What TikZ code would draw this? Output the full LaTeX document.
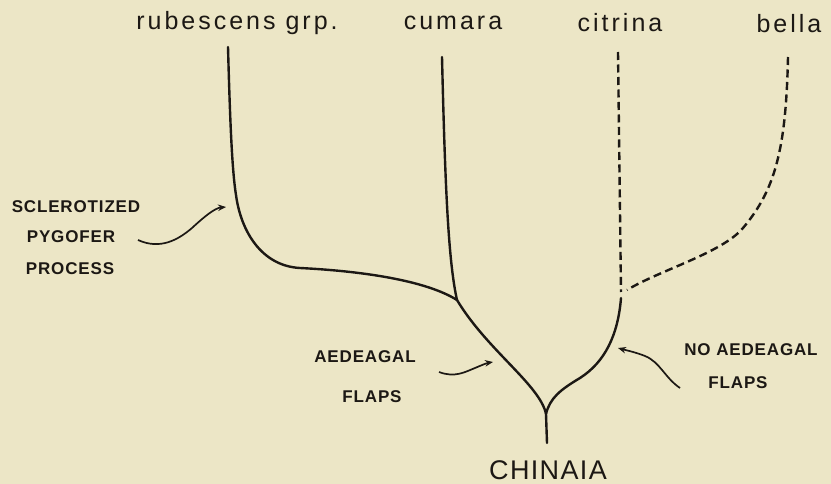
\documentclass[tikz,border=0pt]{standalone}
\usepackage{fontspec}
\usetikzlibrary{arrows.meta}
\newfontfamily\toplab[LetterSpace=12]{Liberation Sans}
\newfontfamily\rootlab[LetterSpace=5]{Liberation Sans}
\newfontfamily\caplab[LetterSpace=5]{Liberation Sans}
\definecolor{bg}{RGB}{236,230,198}
\definecolor{ink}{RGB}{28,24,20}
\tikzset{
  taxon/.style={anchor=base, inner sep=0pt, text=ink, font=\toplab\fontsize{25}{30}\selectfont},
  rootname/.style={anchor=base, inner sep=0pt, text=ink, font=\rootlab\fontsize{27}{32}\selectfont},
  note/.style={anchor=base, inner sep=0pt, text=ink, font=\caplab\bfseries\fontsize{17}{20}\selectfont},
  branch/.style={draw=ink, line width=2.4pt, line cap=round, line join=round},
  dashbranch/.style={draw=ink, line width=2.4pt, dash pattern=on 8pt off 4.5pt},
  pointer/.style={draw=ink, line width=1.7pt, -{Stealth[length=8pt,width=6.5pt]}}
}
\begin{document}
\begin{tikzpicture}[x=1pt,y=-1pt]
\fill[bg] (0,0) rectangle (831,484);
\useasboundingbox (0,0) rectangle (831,484);
% taxon labels
\node[taxon] (rub) at (237,30) {rubescens grp.};
\node[taxon] (cum) at (453,30) {cumara};
\node[taxon] (cit) at (620,32) {citrina};
\node[taxon] (bel) at (789,33) {bella};
\node[rootname] (chi) at (548,479) {CHINAIA};
% notes
\node[note] (scl) at (76,213) {SCLEROTIZED};
\node[note] (pyg) at (71,243) {PYGOFER};
\node[note] (pro) at (70,275) {PROCESS};
\node[note] (aed) at (365,362) {AEDEAGAL};
\node[note] (fl1) at (372,402) {FLAPS};
\node[note] (noa) at (751,355) {NO AEDEAGAL};
\node[note] (fl2) at (738,388) {FLAPS};
% tree coordinates
\coordinate (root) at (547,443);
\coordinate (fork) at (546,414);
\coordinate (j1) at (457,300);
\coordinate (j2) at (621,298);
\coordinate (j2d) at (621,292);
\coordinate (rubtop) at (228,47);
\coordinate (cumtop) at (442,57);
\coordinate (cittop) at (618,52);
\coordinate (beltop) at (788,57);
\coordinate (belend) at (627,290);
% solid branches
\draw[branch] (root) -- (fork);
\draw[branch] (fork) .. controls (540,385) and (487,350) .. (j1);
\draw[branch] (fork) .. controls (550,398) and (560,390) .. (580,378)
  .. controls (605,362) and (618,335) .. (j2);
\draw[branch] (rubtop) .. controls (230,120) and (232,170) .. (236,195)
  .. controls (241,232) and (262,266) .. (300,268)
  .. controls (360,271) and (425,280) .. (j1);
\draw[branch] (cumtop) .. controls (445,180) and (448,260) .. (j1);
% dashed branches
\draw[dashbranch] (cittop) -- (j2d);
\draw[dashbranch] (beltop) .. controls (786,150) and (775,190) .. (743,228)
  .. controls (722,253) and (660,270) .. (belend);
% pointers
\coordinate (p1s) at (138,240);
\coordinate (p1e) at (226,207);
\coordinate (p2s) at (439,372);
\coordinate (p2e) at (493,362);
\coordinate (p3s) at (680,388);
\coordinate (p3e) at (618,348);
\draw[pointer] (p1s) .. controls (160,250) and (178,240) .. (192,228)
  .. controls (205,216) and (215,208) .. (p1e);
\draw[pointer] (p2s) .. controls (455,378) and (465,372) .. (475,368)
  .. controls (482,365) and (487,363) .. (p2e);
\draw[pointer] (p3s) .. controls (665,378) and (660,362) .. (645,356)
  .. controls (635,352) and (625,350) .. (p3e);
\end{tikzpicture}
\end{document}
